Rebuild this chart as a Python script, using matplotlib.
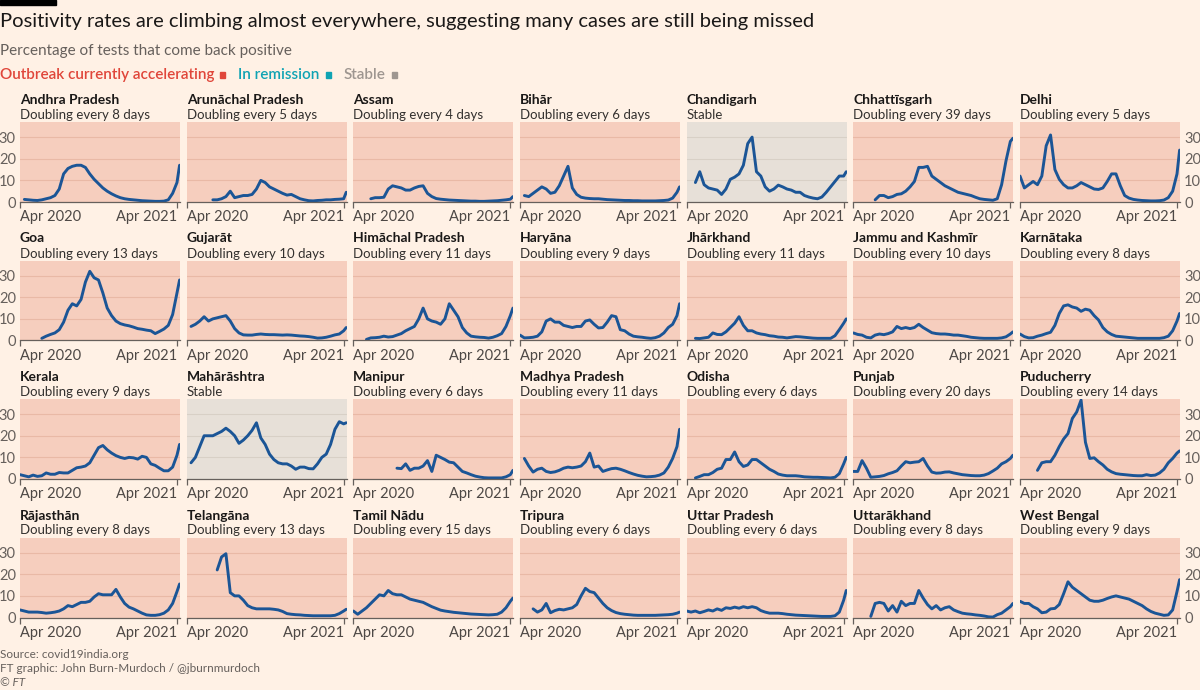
import numpy as np
import pandas as pd
import matplotlib
matplotlib.use("Agg")
import matplotlib.pyplot as plt
from matplotlib.patches import Rectangle

nan = np.nan

# ~10-day steps from Apr 2020 to Apr 2021, plus the last reading
dates = pd.date_range("2020-04-01", "2021-04-01", periods=37).append(pd.DatetimeIndex(["2021-04-07"]))

names = ["Andhra Pradesh", "Arunāchal Pradesh", "Assam", "Bihār", "Chandigarh", "Chhattīsgarh", "Delhi",
         "Goa", "Gujarāt", "Himāchal Pradesh", "Haryāna", "Jhārkhand", "Jammu and Kashmīr", "Karnātaka",
         "Kerala", "Mahārāshtra", "Manipur", "Madhya Pradesh", "Odisha", "Punjab", "Puducherry",
         "Rājasthān", "Telangāna", "Tamil Nādu", "Tripura", "Uttar Pradesh", "Uttarākhand", "West Bengal"]

doubling = [8, 5, 4, 6, None, 39, 5,
            13, 10, 11, 9, 11, 10, 8,
            9, None, 6, 11, 6, 20, 14,
            8, 13, 15, 6, 6, 8, 9]

# positivity rate, %
andhra = [nan, 1.2, 1.0, 0.8, 0.7, 1.0, 1.5, 2.0, 3.0, 6, 13, 15.5, 16.5, 17, 17, 16, 13, 10.5, 8.5,
          6.5, 5, 3.8, 2.8, 2, 1.5, 1.2, 1, 0.8, 0.6, 0.5, 0.4, 0.3, 0.3, 0.4, 1, 4, 9, 17]
arunachal = [nan, nan, nan, nan, nan, nan, 1, 1, 1.5, 2.5, 5, 2, 2.5, 3, 3, 3.5, 6, 10, 9, 7, 6, 5, 4,
             3.2, 3.5, 2.5, 1.5, 1, 0.6, 0.5, 0.7, 0.8, 1, 1, 1.2, 1.3, 1.5, 4.5]
assam = [nan, nan, nan, nan, 1.5, 2, 2, 2.2, 6, 7.5, 7, 6.5, 5.5, 5.5, 6.5, 7.2, 7.5, 4, 2.5, 1.6, 1.3,
         1.1, 0.9, 0.8, 0.7, 0.6, 0.5, 0.4, 0.4, 0.3, 0.3, 0.4, 0.5, 0.6, 0.8, 1, 1.3, 2.5]
bihar = [nan, 3, 2.5, 4, 5.5, 7, 6, 4, 4.5, 7.5, 12, 16.5, 6.5, 3.5, 2.2, 1.8, 1.6, 1.5, 1.5, 1.3, 1.1,
         1, 0.9, 0.8, 0.7, 0.7, 0.6, 0.6, 0.5, 0.5, 0.5, 0.5, 0.6, 0.7, 0.9, 1.8, 4.5, 7]
chandigarh = [nan, nan, 9, 14, 8, 6.5, 6, 5.5, 3.5, 6, 10.5, 11.5, 13, 17, 27, 30, 14, 12, 7, 5, 6,
              7.8, 7, 6, 5.5, 4.5, 4.5, 3, 2.3, 1.8, 1.5, 2.3, 4.5, 7, 9.5, 12, 12, 14]
chhattisgarh = [nan, nan, nan, nan, nan, 1, 3, 3, 2, 2.5, 3.5, 3.8, 5, 7, 9.5, 16, 16, 16.5, 12, 10.5,
                9, 7.5, 6.5, 5.5, 4.5, 4, 3.5, 3, 2.2, 1.5, 1.2, 1, 0.8, 1.5, 8, 19, 28, 29.5]
delhi = [12, 6.5, 8, 9.5, 8, 12, 26, 31, 15, 10.5, 8, 6.5, 6.5, 7.5, 9, 8, 7, 6, 5.8, 6.5, 9.5, 13,
         13, 7.5, 3, 1.8, 1.2, 0.9, 0.7, 0.6, 0.5, 0.5, 0.6, 0.9, 2, 5, 13, 24]
goa = [nan, nan, nan, nan, nan, 1, 2, 2.8, 3.5, 5, 8.5, 14, 17, 16, 19, 27, 32, 29, 28, 22, 15, 11.5,
       9, 7.8, 7.2, 6.8, 6.2, 5.5, 5.2, 4.8, 4.5, 3.2, 4.2, 5.3, 7, 12, 22, 28]
gujarat = [nan, 6.5, 7.5, 9, 11, 9, 10, 10.5, 11, 11.5, 9, 5.5, 3.5, 2.6, 2.5, 2.5, 2.8, 3, 2.8, 2.7,
           2.7, 2.6, 2.5, 2.6, 2.5, 2.3, 2.1, 2, 1.8, 1.5, 1.1, 1.2, 1.5, 2, 2.6, 3, 4.5, 6]
himachal = [nan, nan, nan, 0.5, 1.2, 1.3, 1.5, 2, 1.6, 1.8, 2.5, 3.2, 4.5, 5.5, 6.5, 10, 15, 10, 9, 8.5,
            7.5, 10, 17, 14, 11, 6, 3.5, 2, 1.7, 1.5, 1.4, 1.1, 1.5, 2.2, 3.2, 6.5, 11.5, 15]
haryana = [2.5, 1.2, 1.3, 1.5, 2, 4, 9, 10, 8.5, 8.5, 7, 6.5, 6, 6.5, 6.5, 9, 9.5, 7.5, 5.8, 6, 8.5,
           11.5, 11, 5, 4.5, 3, 2, 1.7, 1.5, 1.2, 1, 1.3, 2, 3.5, 6, 7.5, 11.5, 17]
jharkhand = [nan, nan, 1, 0.9, 1.2, 1.5, 3.5, 2.8, 2.7, 4, 6, 8, 11, 7, 4.5, 4.5, 3.5, 3, 2.7, 2.2, 2,
             1.6, 1.5, 1.2, 1.5, 1.8, 1.7, 1.5, 1.3, 1.1, 1, 1, 1, 1, 2.2, 5, 8, 10]
jammu = [3.5, 2.8, 2.5, 1.5, 1.2, 2.5, 3, 2.7, 3.2, 4, 6.5, 5.5, 6, 5.5, 6, 7.5, 6, 4.8, 3.6, 3.2, 3,
         3, 2.8, 2.5, 2.5, 2.2, 1.9, 1.5, 1.3, 1.1, 1, 1, 1, 1, 1.2, 1.7, 3, 4]
karnataka = [3, 1.8, 1.2, 1.3, 2, 2.5, 3.2, 3.8, 7, 12.5, 16, 16.5, 15.5, 15, 13.5, 14.5, 14, 11.5, 9.5,
             6, 4, 2.8, 2, 1.8, 1.6, 1.4, 1.2, 1, 1, 1, 1, 1, 1, 1.3, 2, 4.5, 9, 12.5]
kerala = [2, 1.5, 1, 1.8, 1.2, 1.5, 2.8, 2.2, 2.2, 3, 2.8, 2.8, 4, 5.2, 5.5, 6, 7.5, 11, 14.5, 15.5,
          13.5, 12, 10.8, 10, 9.5, 10, 9.8, 9.2, 10.5, 10, 7, 6.3, 5, 3.8, 3.8, 5.5, 11, 16]
maharashtra = [nan, 7.5, 10, 15, 20, 20, 20, 21, 22, 23.5, 22, 20, 16.5, 18, 20, 22.5, 26, 19, 16, 11.5,
               9, 7.5, 7, 7, 6, 4.5, 5.5, 5.5, 4.8, 4.7, 7, 10, 11.5, 16, 23, 26.5, 25.5, 26]
manipur = [nan, nan, nan, nan, nan, nan, nan, nan, nan, nan, 5, 4.8, 7, 4, 5, 5, 6, 8.5, 3.5, 11, 10,
           9, 7.8, 7.5, 5.5, 3.5, 2.8, 2, 1.3, 0.9, 0.6, 0.5, 0.5, 0.5, 0.5, 1, 2, 4]
madhya = [nan, 9.5, 6, 3.2, 4.5, 5, 3.5, 3, 3.3, 4, 5, 5.5, 5.2, 5.5, 6, 8, 12, 5.5, 6, 3.5, 4.2, 4.8,
          5, 4.5, 3.8, 3, 2.3, 1.7, 1.3, 1, 1.1, 1.3, 1.8, 2.8, 5.5, 9.5, 15, 23]
odisha = [nan, nan, 0.5, 1.2, 2, 2, 3, 4.5, 5, 9, 9, 12.5, 8, 5.8, 6.5, 9, 9, 7.5, 6, 4.5, 3.5, 2.3,
          1.8, 1.5, 1.5, 1.5, 1.3, 1, 0.9, 0.8, 0.8, 0.7, 0.6, 0.5, 0.8, 2.5, 7, 10]
punjab = [3.5, 3.5, 8.5, 5, 0.8, 1, 1.2, 1.6, 2.4, 3, 3.8, 6, 8, 7.5, 7.8, 8, 9.5, 6, 3.2, 2.7, 2.8,
          3.2, 3.3, 2.8, 2.4, 2, 1.8, 1.6, 1.5, 1.5, 1.8, 2.5, 3.7, 5, 7, 8, 9.5, 11]
puducherry = [nan, nan, nan, nan, 4, 7.5, 8, 8, 11, 15, 18.5, 21, 28, 31, 36.5, 17, 9.5, 9.8, 8, 6.5,
              4.5, 3.3, 2.5, 2.2, 2, 1.8, 1.6, 1.5, 1.5, 2, 1.6, 1.8, 2.8, 4.5, 7.5, 9.5, 12, 13]
rajasthan = [3.5, 3, 2.5, 2.5, 2.5, 2.3, 2, 2.2, 2.5, 3, 4, 5.5, 5, 6, 7, 7, 7.5, 9.5, 11, 10.5, 10.5,
             10.5, 13, 9.5, 6.5, 4.8, 4, 3, 2, 1.2, 1, 1, 1.3, 2, 3.5, 6.5, 12, 15.5]
telangana = [nan, nan, nan, nan, nan, nan, nan, 22, 28, 29.5, 11.5, 10, 10, 8, 5.5, 4.5, 4, 4, 4, 4,
             3.8, 3.5, 2.8, 1.8, 1.5, 1.3, 1.2, 1, 0.9, 0.8, 0.8, 0.8, 0.8, 0.8, 1, 1.8, 3, 3.8]
tamil = [3, 1.5, 3, 4.5, 6.5, 8.5, 10.5, 10, 12.5, 11, 10.5, 10.5, 9.5, 8.5, 8, 7.5, 7, 6, 5, 4.2, 3.4,
         3, 2.7, 2.4, 2.2, 2, 1.8, 1.6, 1.5, 1.4, 1.3, 1.2, 1.3, 1.5, 2.5, 4.5, 7.5, 9]
tripura = [nan, nan, nan, 4, 2.5, 3.5, 6.5, 2.2, 3.2, 3.8, 3.5, 4, 4.5, 6, 10, 13.5, 12, 11.5, 9, 6.5,
           4.5, 3.2, 2.3, 1.8, 1.5, 1.3, 1.1, 1, 1, 1, 1, 1, 1.1, 1.2, 1.3, 1.5, 2, 2.5]
uttar = [3, 2.5, 3, 2.2, 2.8, 3.5, 3, 4, 3.3, 4.5, 4.2, 4.8, 4.3, 5, 4.5, 5, 4.5, 3.2, 2.5, 2, 2, 2,
         1.8, 1.5, 1.3, 1.1, 1, 0.9, 0.8, 0.7, 0.6, 0.5, 0.5, 0.5, 0.8, 2.5, 8, 12.5]
uttarakhand = [nan, nan, nan, nan, 0.5, 6.5, 7, 6.5, 3, 5.5, 2.5, 7.5, 5.5, 6.5, 6.5, 12.5, 9, 6, 4, 5.5,
               3.5, 4.5, 5, 3.5, 2.7, 2, 1.7, 1.5, 1.2, 1, 0.7, 0.3, 0.2, 1.3, 2, 3.5, 5, 6.5]
westbengal = [7.5, 6.5, 6.5, 5, 4, 2.2, 2.5, 4, 4.2, 6, 11, 16.5, 14, 12.5, 11, 9.5, 8, 7.5, 7.5, 8, 8.8,
              9.5, 10, 9.5, 9, 8.5, 7.5, 6.5, 5.5, 4, 2.8, 2, 1.5, 1, 1.2, 3.5, 12, 17.5]

series = [andhra, arunachal, assam, bihar, chandigarh, chhattisgarh, delhi,
          goa, gujarat, himachal, haryana, jharkhand, jammu, karnataka,
          kerala, maharashtra, manipur, madhya, odisha, punjab, puducherry,
          rajasthan, telangana, tamil, tripura, uttar, uttarakhand, westbengal]

BG = "#FFF1E5"
ACCEL = "#F6CEBE"
STABLE = "#E7E0D8"
LINE = "#1B5596"
GREY = "#66605C"
DARK = "#33302E"

plt.rcParams['font.family'] = ['Lato', 'DejaVu Sans']

W, H = 1200, 690
fig = plt.figure(figsize=(12, 6.9), dpi=100, facecolor=BG)

def fx(px):
    return px / W

def fy(py):
    return 1 - py / H

# header
fig.patches.append(Rectangle((0, fy(5)), fx(56), 5 / H, transform=fig.transFigure, color="black"))
fig.text(0, fy(22), "Positivity rates are climbing almost everywhere, suggesting many cases are still being missed",
         fontsize=14.5, color="#1a1817", va="center")
fig.text(0, fy(51), "Percentage of tests that come back positive", fontsize=11, color=GREY, va="center")

# legend: coloured words followed by little squares
renderer = fig.canvas.get_renderer()
x = 0
for label, col in [("Outbreak currently accelerating", "#E0463A"), ("In remission", "#0FA3B3"), ("Stable", "#9E9690")]:
    t = fig.text(fx(x), fy(75), label, fontsize=11, fontweight="semibold", color=col, va="center")
    bb = t.get_window_extent(renderer=renderer)
    x = bb.x1 + 6
    fig.patches.append(Rectangle((fx(x), fy(77.5)), fx(5), 5 / H, transform=fig.transFigure, color=col))
    x += 18

for k, (name, vals) in enumerate(zip(names, series)):
    r, c = divmod(k, 7)
    left = 20 + c * 166.67
    top = 122 + r * 138.5
    ax = fig.add_axes([fx(left), fy(top + 80), fx(160), 80 / H])
    stable = doubling[k] is None
    ax.set_facecolor(STABLE if stable else ACCEL)
    ax.plot(dates, vals, color=LINE, lw=2.1, solid_capstyle="round", solid_joinstyle="round", zorder=3)
    ax.set_ylim(0, 37)
    ax.set_xlim(pd.Timestamp("2020-04-01"), pd.Timestamp("2021-04-08"))
    ax.set_yticks([0, 10, 20, 30])
    ax.grid(axis="y", color="#E9B9A6" if not stable else "#D8D0C6", lw=0.8, zorder=1)
    for s in ["top", "left", "right"]:
        ax.spines[s].set_visible(False)
    ax.spines["bottom"].set_color(GREY)
    ax.spines["bottom"].set_linewidth(0.9)
    ax.spines["bottom"].set_zorder(4)

    ax.set_xticks([pd.Timestamp("2020-04-01"), pd.Timestamp("2021-04-01")])
    ax.set_xticklabels(["Apr 2020", "Apr 2021"], fontsize=10.5, color="#4D4845")
    ax.get_xticklabels()[0].set_horizontalalignment("left")
    ax.get_xticklabels()[1].set_horizontalalignment("right")
    ax.tick_params(axis="x", length=4, width=0.9, color=GREY, pad=2)

    if c == 0:
        ax.tick_params(axis="y", length=0, labelsize=10.5, labelcolor=GREY, pad=3)
    elif c == 6:
        ax.yaxis.tick_right()
        ax.tick_params(axis="y", length=0, labelsize=10.5, labelcolor=GREY, pad=3)
    else:
        ax.tick_params(axis="y", length=0, labelleft=False)

    sub = "Stable" if stable else f"Doubling every {doubling[k]} days"
    fig.text(fx(left), fy(top - 22), name, fontsize=10, fontweight="bold", color="#1a1817", va="center")
    fig.text(fx(left), fy(top - 7), sub, fontsize=9.5, color=DARK, va="center")

fig.text(0, fy(655), "Source: covid19india.org", fontsize=8.5, color=GREY, va="center")
fig.text(0, fy(669), "FT graphic: John Burn-Murdoch / @jburnmurdoch", fontsize=8.5, color=GREY, va="center")
fig.text(0, fy(682), "© FT", fontsize=8.5, color=GREY, va="center", style="italic")

fig.savefig("out.png", dpi=100, facecolor=BG)
